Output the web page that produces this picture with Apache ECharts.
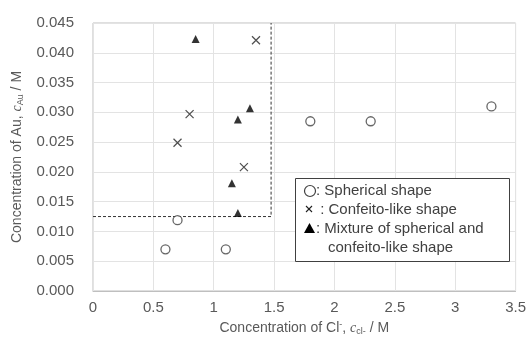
<!DOCTYPE html>
<html><head><meta charset="utf-8">
<script src="https://cdn.jsdelivr.net/npm/echarts@6/dist/echarts.min.js"></script>
<style>html,body{margin:0;padding:0;background:#fff}#c{width:529px;height:341px}</style>
</head><body><div id="c"></div>
<script>
const sphericalPts = [[0.6,0.0070],[0.7,0.0119],[1.1,0.0070],[1.8,0.0285],[2.3,0.0285],[3.3,0.0310]];
const confeitoPts = [[0.7,0.0249],[0.8,0.0297],[1.25,0.0208],[1.35,0.0421]];
const mixturePts = [[0.85,0.0423],[1.15,0.0181],[1.2,0.0131],[1.2,0.0288],[1.3,0.0307]];
const boundaryPts = [[0,0.0125],[1.475,0.0125],[1.475,0.045]];
const legendLabels = [': Spherical shape', ' : Confeito-like shape', ': Mixture of spherical and', 'confeito-like shape'];

const FONT = 'Liberation Sans, Arial, sans-serif';
const TXT = '#595959';
const chart = echarts.init(document.getElementById('c'));
chart.setOption({
  animation:false,
  grid:{left:93,right:12,top:23,bottom:46,show:true,borderColor:'#bfbfbf',borderWidth:1},
  xAxis:{type:'value',min:0,max:3.5,interval:0.5,
    axisLine:{show:true,onZero:false,lineStyle:{color:'#bfbfbf'}},axisTick:{show:false},
    splitLine:{lineStyle:{color:'#e3e3e3'}},
    axisLabel:{color:TXT,fontFamily:FONT,fontSize:15,margin:9},
    name:'{a|Concentration of Cl}{sup|-}{a|, }{i|c}{sub|cl-}{a| / M}',nameLocation:'middle',nameGap:29,
    nameTextStyle:{rich:{a:{color:TXT,fontFamily:FONT,fontSize:14},sup:{color:TXT,fontFamily:FONT,fontSize:9,verticalAlign:'top',padding:[0,0,8,0]},i:{color:TXT,fontFamily:'Liberation Serif, serif',fontStyle:'italic',fontSize:14},sub:{color:TXT,fontFamily:FONT,fontSize:9,padding:[6,0,0,0]}}}
  },
  yAxis:{type:'value',min:0,max:0.045,interval:0.005,
    axisLine:{show:false},axisTick:{show:false},
    splitLine:{lineStyle:{color:'#e3e3e3'}},
    axisLabel:{color:TXT,fontFamily:FONT,fontSize:15,margin:19,formatter:v=>v.toFixed(3)},
    name:'{a|Concentration of Au, }{i|c}{sub|Au}{a| / M}',nameLocation:'middle',nameGap:68,nameRotate:90,
    nameTextStyle:{rich:{a:{color:TXT,fontFamily:FONT,fontSize:14},i:{color:TXT,fontFamily:'Liberation Serif, serif',fontStyle:'italic',fontSize:14},sub:{color:TXT,fontFamily:FONT,fontSize:9,padding:[6,0,0,0]}}}
  },
  series:[
    {type:'line',data:boundaryPts,symbol:'none',lineStyle:{color:'#333',width:1,type:[3,2]},silent:true,z:1},
    {type:'scatter',data:sphericalPts,symbol:'circle',symbolSize:9,itemStyle:{color:'#fff',borderColor:'#404040',borderWidth:1.3},z:3},
    {type:'scatter',data:confeitoPts,symbol:'path://M0,0L10,10M10,0L0,10',symbolSize:8,itemStyle:{color:'transparent',borderColor:'#222',borderWidth:1.2},z:3},
    {type:'scatter',data:mixturePts,symbol:'triangle',symbolSize:[8,8],itemStyle:{color:'#000'},z:3}
  ],
  graphic:[
    {type:'rect',shape:{x:295.5,y:178.5,width:214,height:83},style:{fill:'#fff',stroke:'#404040',lineWidth:1},z:10},
    {type:'circle',shape:{cx:310,cy:191,r:5.5},style:{fill:'#fff',stroke:'#404040',lineWidth:1.2},z:11},
    {type:'polyline',shape:{points:[[306,206],[312,212]]},style:{stroke:'#222',lineWidth:1.1},z:11},
    {type:'polyline',shape:{points:[[312,206],[306,212]]},style:{stroke:'#222',lineWidth:1.1},z:11},
    {type:'polygon',shape:{points:[[309.5,223],[315,233],[304,233]]},style:{fill:'#000'},z:11},
    {type:'text',x:316,y:191,style:{text:legendLabels[0],font:'15px '+FONT,fill:'#404040',verticalAlign:'middle'},z:11},
    {type:'text',x:316,y:210,style:{text:legendLabels[1],font:'15px '+FONT,fill:'#404040',verticalAlign:'middle'},z:11},
    {type:'text',x:316,y:229,style:{text:legendLabels[2],font:'15px '+FONT,fill:'#404040',verticalAlign:'middle'},z:11},
    {type:'text',x:328,y:248,style:{text:legendLabels[3],font:'15px '+FONT,fill:'#404040',verticalAlign:'middle'},z:11}
  ]
});
</script></body></html>
